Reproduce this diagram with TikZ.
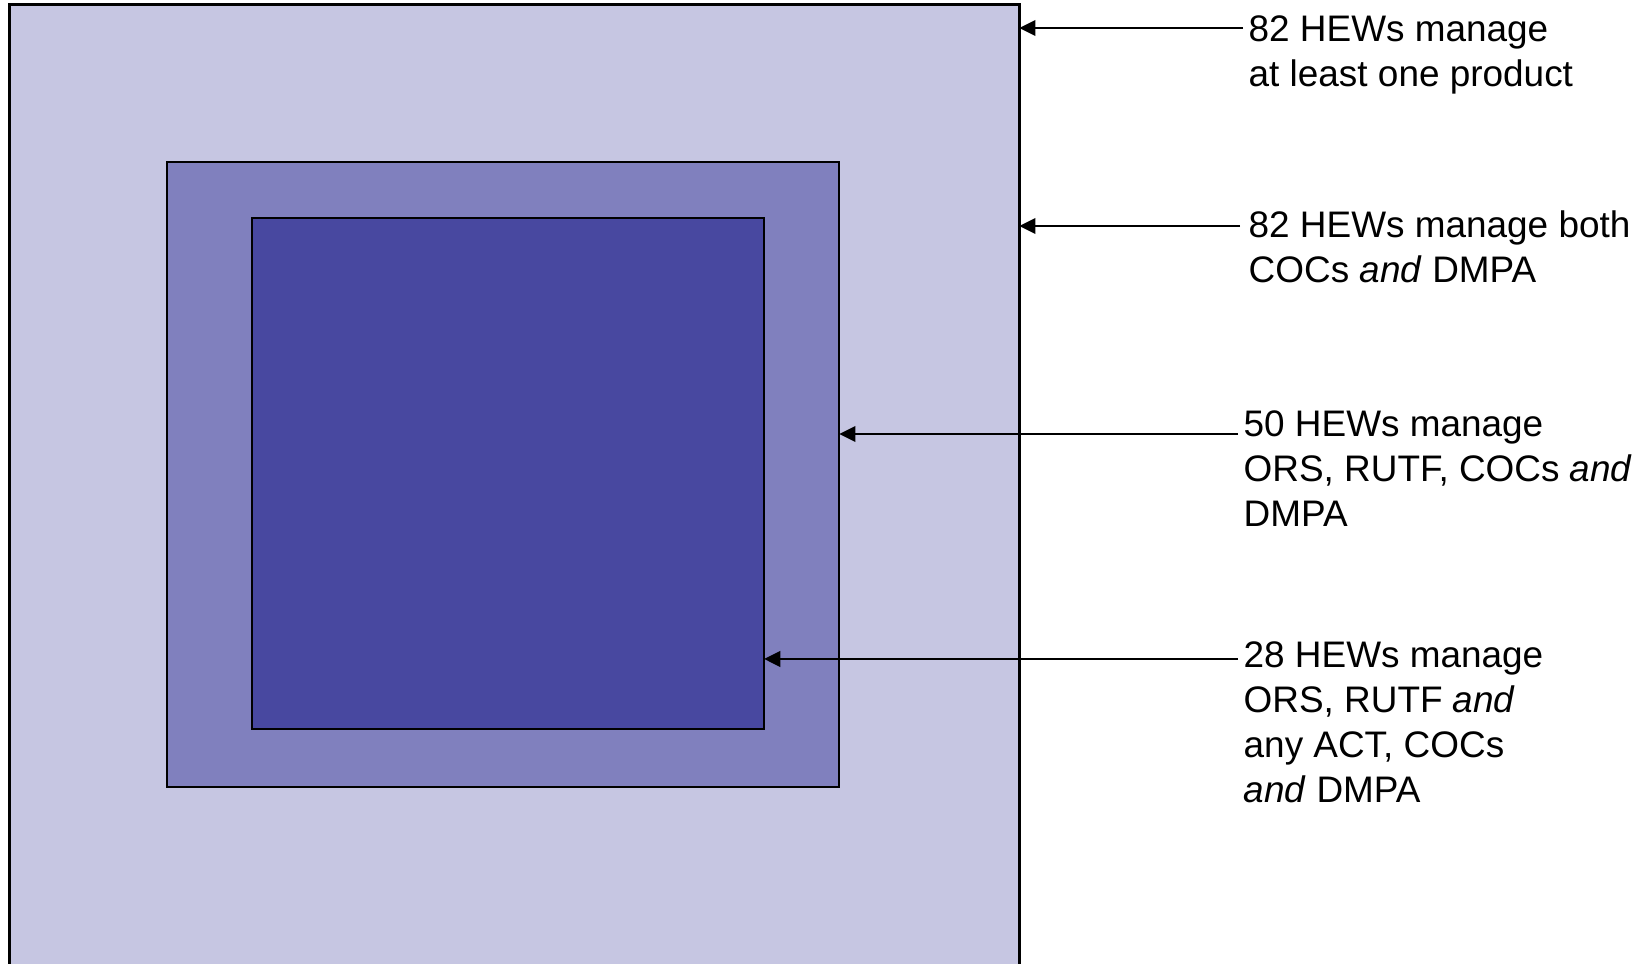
\documentclass[tikz,border=0pt]{standalone}
\usepackage{fontspec}
\setmainfont{Liberation Sans}
\definecolor{lavlight}{RGB}{198, 198, 226}
\definecolor{lavmid}{RGB}{128, 128, 190}
\definecolor{lavdark}{RGB}{72, 72, 160}
\usetikzlibrary{arrows.meta, positioning, calc}

\tikzset{
  panel/.style={draw=black, inner sep=0pt, outer sep=0pt},
  pointer/.style={-{Triangle[length=4.6pt, width=4.4pt]}, line width=0.65pt},
  note/.style={anchor=north west, inner sep=0pt, align=left, font=\fontsize{10.5pt}{12.8pt}\selectfont}
}

\begin{document}
\begin{tikzpicture}[x=0.01cm, y=-0.01cm]
  \useasboundingbox (0, 0) rectangle (1647, 964);

  % Nested product boxes
  \node[panel, fill=lavlight, line width=0.85pt, minimum width=10.09cm, minimum height=9.75cm] (allprod) at (514.5, 492.5) {};
  \node[panel, fill=lavmid, line width=0.6pt, minimum width=6.72cm, minimum height=6.25cm] (fourprod) at (503, 474.5) {};
  \node[panel, fill=lavdark, line width=0.7pt, minimum width=5.12cm, minimum height=5.11cm] (fiveprod) at (508, 473.5) {};

  % Labels
  \node[note] (lblall) at (1248, 15) {82 HEWs manage\\at least one product};
  \node[note] (lblboth) at (1248, 210) {82 HEWs manage both\\COCs \textit{and} DMPA};
  \node[note] (lblfour) at (1243, 410) {50 HEWs manage\\ORS, RUTF, COCs \textit{and}\\DMPA};
  \node[note] (lblfive) at (1243, 641) {28 HEWs manage\\ORS, RUTF \textit{and}\\any ACT, COCs\\\textit{and} DMPA};

  % Pointers
  \coordinate (srcall) at (1243, 28);
  \coordinate (srcboth) at (1240, 226);
  \coordinate (srcfour) at (1238, 434);
  \coordinate (srcfive) at (1238, 659);
  \draw[pointer] (srcall) -- (srcall -| allprod.east);
  \draw[pointer] (srcboth) -- (srcboth -| allprod.east);
  \draw[pointer] (srcfour) -- (srcfour -| fourprod.east);
  \draw[pointer] (srcfive) -- (srcfive -| fiveprod.east);
\end{tikzpicture}
\end{document}
